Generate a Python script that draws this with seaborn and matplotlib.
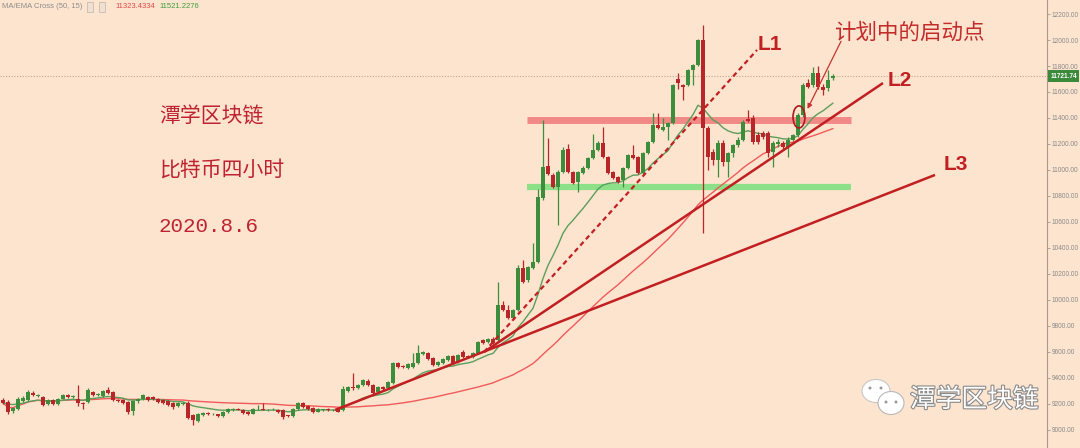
import matplotlib
matplotlib.use('Agg')
import matplotlib.pyplot as plt
import matplotlib.patheffects as pe
import matplotlib.transforms as transforms
from matplotlib.patches import Ellipse
import seaborn as sns
import pandas as pd
import numpy as np

# 4h BTC candles
opens = [9231, 9215, 9146, 9162, 9223, 9231, 9285, 9262, 9254, 9200,
         9230, 9200, 9240, 9270, 9250, 9238, 9208, 9215, 9292, 9269,
         9262, 9308, 9292, 9231, 9231, 9215, 9146, 9223, 9238, 9254,
         9250, 9238, 9231, 9223, 9208, 9185, 9200, 9208, 9115, 9070,
         9115, 9131, 9120, 9120, 9108, 9138, 9150, 9160, 9154, 9140,
         9125, 9158, 9160, 9150, 9158, 9154, 9154, 9110, 9108, 9162,
         9208, 9185, 9170, 9140, 9150, 9160, 9150, 9160,
         9154, 9300, 9330, 9323, 9346, 9380, 9346, 9292, 9331, 9323,
         9362, 9515, 9492, 9477, 9485, 9515, 9585, 9592, 9554, 9500,
         9515, 9538, 9569, 9523, 9600, 9570, 9562, 9592, 9692, 9677,
         9700, 9692, 9962, 9923, 9862, 9923, 10246, 10154, 10246, 10292,
         10785, 11031, 10962, 10869, 10985, 11162, 10985, 10908, 10977, 11015,
         11092, 11154, 11208, 11100, 10985, 10946, 10923, 11015, 11115, 11100,
         10977, 11131, 11215, 11346, 11308, 11331, 11362, 11700, 11654, 11654,
         11769, 11808, 12000, 11323, 11138, 11077, 11208, 11062, 11131, 11192,
         11231, 11392, 11400, 11269, 11285, 11285, 11138, 11200, 11208, 11177,
         11231, 11269, 11423, 11669, 11654, 11746, 11640, 11630, 11705]
highs = [9246, 9231, 9177, 9250, 9262, 9310, 9300, 9277, 9262, 9240,
         9240, 9246, 9280, 9280, 9270, 9346, 9215, 9320, 9300, 9285,
         9310, 9331, 9300, 9238, 9238, 9223, 9230, 9246, 9280, 9262,
         9258, 9246, 9238, 9230, 9215, 9215, 9215, 9220, 9123, 9130,
         9140, 9138, 9131, 9125, 9146, 9169, 9170, 9169, 9162, 9146,
         9169, 9192, 9208, 9162, 9169, 9162, 9160, 9118, 9169, 9215,
         9215, 9190, 9177, 9169, 9165, 9168, 9162, 9165,
         9338, 9340, 9438, 9355, 9395, 9392, 9355, 9340, 9340, 9377,
         9525, 9525, 9500, 9515, 9592, 9654, 9610, 9600, 9562, 9531,
         9554, 9577, 9577, 9585, 9615, 9577, 9600, 9685, 9700, 9708,
         9715, 10138, 9990, 9962, 9931, 10270, 10308, 10262, 10438, 10850,
         11385, 11246, 10975, 11000, 11180, 11200, 10995, 10995, 11030, 11100,
         11277, 11220, 11331, 11110, 10995, 10955, 11025, 11125, 11190, 11108,
         11140, 11225, 11438, 11438, 11400, 11370, 11665, 11750, 11662, 11780,
         11815, 12010, 12115, 11340, 11160, 11230, 11230, 11140, 11200, 11250,
         11385, 11460, 11420, 11290, 11300, 11300, 11220, 11240, 11220, 11250,
         11280, 11440, 11670, 11700, 11790, 11800, 11660, 11770, 11740]
lows = [9200, 9125, 9131, 9150, 9215, 9223, 9262, 9254, 9185, 9190,
        9192, 9192, 9235, 9243, 9243, 9185, 9160, 9208, 9262, 9262,
        9254, 9280, 9225, 9215, 9200, 9125, 9115, 9210, 9230, 9223,
        9230, 9208, 9200, 9185, 9165, 9177, 9195, 9085, 9040, 9062,
        9108, 9112, 9115, 9100, 9100, 9131, 9146, 9150, 9123, 9115,
        9120, 9150, 9150, 9143, 9150, 9131, 9085, 9100, 9100, 9155,
        9172, 9154, 9130, 9135, 9145, 9143, 9145, 9135,
        9146, 9290, 9310, 9315, 9340, 9340, 9278, 9285, 9308, 9315,
        9355, 9477, 9477, 9470, 9477, 9508, 9577, 9538, 9492, 9492,
        9508, 9530, 9508, 9515, 9554, 9554, 9554, 9585, 9662, 9670,
        9662, 9680, 9915, 9850, 9850, 9915, 10130, 10140, 10238, 10285,
        10770, 10960, 10860, 10577, 10975, 10975, 10890, 10830, 10970, 11008,
        11085, 11146, 11095, 10970, 10930, 10900, 10870, 11008, 11085, 10970,
        10970, 11125, 11208, 11315, 11300, 11231, 11355, 11620, 11538, 11645,
        11650, 11800, 10515, 11000, 11040, 10946, 11030, 10946, 11100, 11180,
        11220, 11370, 11200, 11200, 11240, 11100, 11023, 11180, 11160, 11100,
        11220, 11250, 11410, 11630, 11640, 11620, 11580, 11610, 11690]
closes = [9208, 9138, 9169, 9238, 9246, 9292, 9270, 9269, 9192, 9231,
          9200, 9238, 9270, 9250, 9262, 9208, 9200, 9308, 9269, 9277,
          9300, 9285, 9231, 9223, 9208, 9138, 9223, 9238, 9269, 9231,
          9238, 9215, 9208, 9192, 9177, 9208, 9208, 9092, 9077, 9123,
          9131, 9120, 9125, 9110, 9138, 9162, 9162, 9155, 9131, 9125,
          9160, 9162, 9155, 9155, 9162, 9140, 9100, 9108, 9160, 9208,
          9180, 9162, 9138, 9160, 9158, 9150, 9155, 9140,
          9315, 9330, 9320, 9346, 9385, 9346, 9285, 9331, 9315, 9369,
          9515, 9485, 9485, 9508, 9515, 9592, 9600, 9546, 9500, 9523,
          9546, 9569, 9515, 9577, 9562, 9560, 9592, 9677, 9670, 9700,
          9670, 9962, 9923, 9862, 9923, 10246, 10138, 10254, 10292, 10792,
          11023, 10969, 10869, 10985, 11154, 10985, 10900, 10985, 11015, 11092,
          11154, 11208, 11100, 10977, 10938, 10908, 11015, 11115, 11092, 10977,
          11131, 11215, 11346, 11323, 11331, 11362, 11654, 11669, 11638, 11769,
          11808, 12000, 11323, 11100, 11077, 11208, 11062, 11131, 11192, 11231,
          11369, 11377, 11215, 11215, 11254, 11131, 11208, 11215, 11177, 11231,
          11269, 11423, 11654, 11640, 11746, 11638, 11615, 11692, 11721.74]

# drawn objects: (bar, price) anchors
l3_pts = [(66.4, 9154), (186.4, 10962)]
l1_pts = [(96.2, 9600), (150.8, 11923)]
l2_pts = [(96.2, 9600), (176.0, 11669)]
resistance = 11385
support = 10869
band_span = (104.8, 169.6)
last_price = 11721.74
ring_bar, ring_price = 159.2, 11408
legend_slow, legend_fast = '11323.4334', '11521.2276'
price_ticks = list(range(9000, 12201, 200))

BG = '#FCE4CE'
GREEN = '#3C8E3C'
RED = '#B8262A'
LINE_RED = '#C21F22'
TEXT_RED = '#BF2230'

df = pd.DataFrame({'bar': np.arange(len(closes)), 'open': opens, 'high': highs,
                   'low': lows, 'close': closes})
df['ma_slow'] = df['close'].rolling(50, min_periods=1).mean()
df['ma_fast'] = df['close'].ewm(span=15, adjust=False).mean()

sns.set_theme(style='white')
plt.rcParams['font.family'] = ['Noto Sans CJK SC', 'DejaVu Sans']

W, H = 1080, 448
fig = plt.figure(figsize=(W / 100, H / 100), dpi=100, facecolor=BG)
ax = fig.add_axes([0, 0, 1047 / W, 1])
ax.set_facecolor(BG)
ax.set_xlim(-0.6, 208.8)
ax.set_ylim(8861.5, 12307.7)


def px(x, y):
    # pixel position of the picture -> axes fraction
    return x / 1047, 1 - y / H


# support / resistance bands
ax.hlines(resistance, *band_span, color='#F08080', lw=5, alpha=0.9, zorder=1)
ax.hlines(support, *band_span, color='#85E085', lw=4.5, alpha=0.95, zorder=1)
ax.axhline(last_price, color='#BBA996', lw=0.8, ls=(0, (1, 1.5)), zorder=1)

# moving averages
sns.lineplot(data=df, x='bar', y='ma_slow', color='#F05A5A', lw=1.0, ax=ax, zorder=2)
sns.lineplot(data=df, x='bar', y='ma_fast', color='#5C9E5C', lw=1.0, ax=ax, zorder=2)

# candles
up = df['close'] >= df['open']
cols = np.where(up, GREEN, RED)
body_lo = df[['open', 'close']].min(axis=1)
body_h = (df['close'] - df['open']).abs().clip(lower=6)
ax.vlines(df['bar'], df['low'], df['high'], colors=cols, lw=0.9, zorder=3)
ax.bar(df['bar'], body_h, bottom=body_lo, width=0.76, color=cols, lw=0, zorder=4)

# trend lines
for pts, ls, lw in [(l1_pts, (0, (2.2, 1.6)), 1.6), (l2_pts, '-', 1.8), (l3_pts, '-', 1.8)]:
    (x0, y0), (x1, y1) = pts
    ax.plot([x0, x1], [y0, y1], color=LINE_RED, lw=lw, ls=ls, zorder=5,
            solid_capstyle='butt')

lab_kw = dict(transform=ax.transAxes, color=LINE_RED, fontsize=15, fontweight='bold',
              family=['Liberation Sans', 'DejaVu Sans'], va='center', ha='left')
ax.text(*px(758, 45), 'L1', **lab_kw)
ax.text(*px(888, 80), 'L2', **lab_kw)
ax.text(*px(944, 165), 'L3', **lab_kw)

# planned start point
ax.add_patch(Ellipse((ring_bar, ring_price), 2.4, 170, fill=False, edgecolor='#A81C1C',
                     lw=1.2, zorder=6))
ax.annotate('', xy=(160.9, 11470), xytext=(167.6, 11990),
            arrowprops=dict(arrowstyle='-|>', color='#C8322F', lw=0.9,
                            mutation_scale=7, shrinkA=0, shrinkB=0), zorder=6)
ax.text(*px(834, 33), '计划中的启动点', transform=ax.transAxes, color='#C42B2B',
        fontsize=15.5, va='center', ha='left')

# title block
title_kw = dict(transform=ax.transAxes, color=TEXT_RED, fontsize=15, va='center', ha='left')
ax.text(*px(159, 117), '潭学区块链', **title_kw)
ax.text(*px(159, 170), '比特币四小时', **title_kw)
ax.text(*px(159, 226), '2020.8.6', transform=ax.transAxes, color=TEXT_RED, fontsize=15,
        va='center', ha='left', family=['Liberation Mono', 'DejaVu Sans Mono'])

# indicator legend
small = ['Liberation Sans', 'DejaVu Sans']
ax.text(*px(2, 7), 'MA/EMA Cross (50, 15)', transform=ax.transAxes, color='#8C8C8C',
        fontsize=5.5, va='center', ha='left', family=small)
for bx in (89, 101):
    ax.text(*px(bx, 7), ' ', transform=ax.transAxes, fontsize=4.5, va='center',
            family=small,
            bbox=dict(boxstyle='square,pad=0.4', fc='#EFE0D2', ec='#C8BCB0', lw=0.6))
ax.text(*px(115, 7), legend_slow, transform=ax.transAxes, color='#E04848',
        fontsize=5.5, va='center', ha='left', family=small)
ax.text(*px(159, 7), legend_fast, transform=ax.transAxes, color='#3E9E3E',
        fontsize=5.5, va='center', ha='left', family=small)

# right price axis
sns.despine(ax=ax, left=True, bottom=True, top=True, right=False)
ax.spines['right'].set_color('#A8998A')
ax.spines['right'].set_linewidth(0.8)
ax.yaxis.tick_right()
ax.set_yticks(price_ticks)
ax.set_yticklabels([f'{v:.2f}' for v in price_ticks], family=small)
ax.tick_params(axis='y', right=True, length=2.5, width=0.6, color='#A8998A',
               labelsize=4.7, labelcolor='#8A8A8A', pad=1.0)
ax.set_xticks([])
ax.set_xlabel('')
ax.set_ylabel('')
trans = transforms.blended_transform_factory(ax.transAxes, ax.transData)
ax.text(1.003, last_price, f'{last_price:.2f}', transform=trans, color='white',
        fontsize=4.7, fontweight='bold', va='center', ha='left', family=small,
        bbox=dict(boxstyle='square,pad=0.35', fc='#3B8A3B', ec='none'), clip_on=False)

# watermark
def fig_ell(x, y, w, h, **kw):
    fig.add_artist(Ellipse((x / W, 1 - y / H), w / W, h / H, transform=fig.transFigure, **kw))

fig_ell(876, 391, 28, 23, fc='white', ec='#C8C8C8', lw=0.8, zorder=10)
fig_ell(891, 403, 26, 23, fc='white', ec='#B8B8B8', lw=0.8, zorder=11)
for ex, ey in [(870, 388), (881, 388), (886, 402), (896, 402)]:
    fig_ell(ex, ey, 3, 3, fc='#9A9A9A', ec='none', zorder=12)
fig.text(910 / W, 1 - 400 / H, '潭学区块链', color='white', fontsize=18.5, va='center',
         ha='left', path_effects=[pe.withStroke(linewidth=1.6, foreground='#8A8A8A')],
         zorder=12)

fig.savefig('out.png', dpi=100, facecolor=BG)
